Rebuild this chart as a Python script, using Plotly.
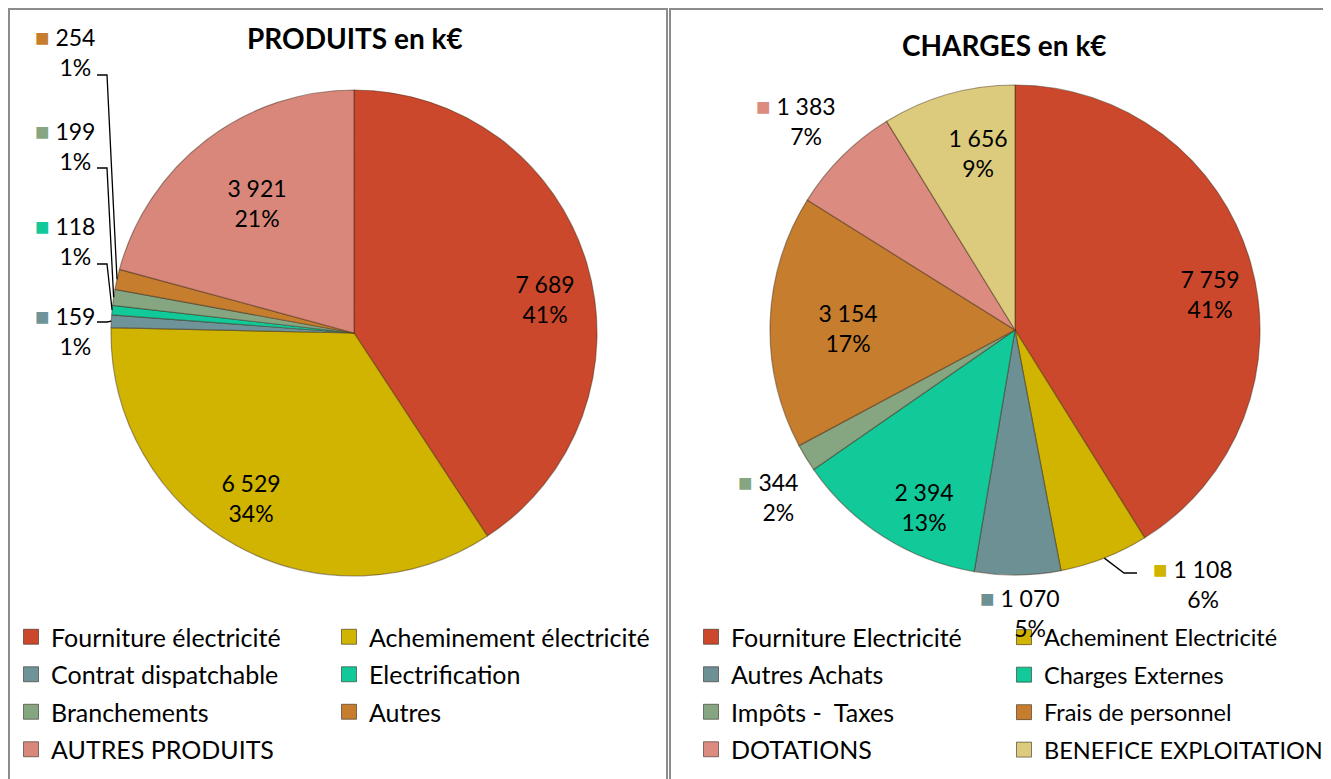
import math
import plotly.graph_objects as go

# ---------------- data ----------------
prod_labels = ["Fourniture électricité", "Acheminement électricité", "Contrat dispatchable",
               "Electrification", "Branchements", "Autres", "AUTRES PRODUITS"]
prod_values = [7689, 6529, 159, 118, 199, 254, 3921]
prod_pct = [41, 34, 1, 1, 1, 1, 21]

charge_labels = ["Fourniture Electricité", "Acheminent Electricité", "Autres Achats",
                 "Charges Externes", "Impôts -  Taxes", "Frais de personnel",
                 "DOTATIONS", "BENEFICE EXPLOITATION"]
charge_values = [7759, 1108, 1070, 2394, 344, 3154, 1383, 1656]
charge_pct = [41, 6, 5, 13, 2, 17, 7, 9]

# ---------------- styles ----------------
prod_colors = ["#CB482D", "#D0B400", "#6E949A", "#12C99A", "#86A682", "#C67D2E", "#D9877B"]
charge_colors = ["#CB482D", "#D0B400", "#6C9094", "#12C99A", "#86A682", "#C67D2E", "#DC8B80", "#DCCB7C"]

# page is offset by the default 8px body margin of the html page
OFF = 8
W, H = 1331 - OFF, 779 - OFF
FONT = "Lato, 'Open Sans', sans-serif"

# pie geometry in page pixels (center x, center y, radius)
LEFT = (354, 333, 243)
RIGHT = (1015, 330, 245)

# inside label placement: radial factor and angular nudge (deg); None -> outside label
prod_rf = [0.80, 0.80, None, None, None, None, 0.67]
prod_da = [6.3, 3.0, 0, 0, 0, 0, 0.9]
charge_rf = [0.81, None, None, 0.81, None, 0.68, None, 0.74]
charge_da = [5.5, 0, 0, -5.3, 0, -1.2, 0, 4.1]
# outside label block centres (page px)
prod_out = {2: (75, 330), 3: (75, 240), 4: (75, 145), 5: (75, 51)}
charge_out = {1: (1203, 583), 2: (1030, 612), 4: (778, 496), 6: (806, 120)}
# leader lines (horizontal start y for left small slices)
prod_leader_y = {2: 322, 3: 264, 4: 168, 5: 75}


def px(x):
    return (x - OFF) / W


def py(y):
    return 1 - (y - OFF) / H


def fmt(v):
    return f"{v:,}".replace(",", " ")


def mid_angles(values):
    tot = sum(values)
    out, cum = [], 0
    for v in values:
        out.append((cum + v / 2) / tot * 360)
        cum += v
    return out


def polar(geom, r, ang):
    cx, cy, _ = geom
    t = math.radians(ang)
    return cx + r * math.sin(t), cy - r * math.cos(t)


def domain(geom):
    cx, cy, r = geom
    return dict(x=[px(cx - r), px(cx + r)], y=[py(cy + r), py(cy - r)])


fig = go.Figure()

for geom, labels, values, colors in [(LEFT, prod_labels, prod_values, prod_colors),
                                      (RIGHT, charge_labels, charge_values, charge_colors)]:
    fig.add_trace(go.Pie(
        labels=labels, values=values, sort=False, direction="clockwise", rotation=0,
        marker=dict(colors=colors, line=dict(color="rgba(60,40,20,0.45)", width=1.2)),
        textinfo="none", hoverinfo="label+value+percent", showlegend=False,
        domain=domain(geom),
    ))

annotations = []
shapes = []


def label_text(color, v, p):
    return (f"<span style='color:{color};font-size:24px'>■</span> {fmt(v)} "
            f"<span style='color:rgba(0,0,0,0);font-size:24px'>■</span><br>{p}%")


for geom, values, pcts, colors, rf, da, outpos in [
        (LEFT, prod_values, prod_pct, prod_colors, prod_rf, prod_da, prod_out),
        (RIGHT, charge_values, charge_pct, charge_colors, charge_rf, charge_da, charge_out)]:
    angs = mid_angles(values)
    for i, (v, p, c, a) in enumerate(zip(values, pcts, colors, angs)):
        if rf[i] is not None:
            x, y = polar(geom, rf[i] * geom[2], a + da[i])
        else:
            x, y = outpos[i]
        annotations.append(dict(
            x=px(x), y=py(y), xref="paper", yref="paper", showarrow=False,
            text=label_text(c, v, p), align="center",
            font=dict(family=FONT, size=23, color="#000000"),
            xanchor="center", yanchor="middle"))

# leader lines for left small slices
angs_l = mid_angles(prod_values)
for i, ly in prod_leader_y.items():
    ex, ey = polar(LEFT, LEFT[2], angs_l[i])
    shapes.append(dict(type="path", xref="paper", yref="paper",
                       path=f"M {px(97)},{py(ly)} L {px(107)},{py(ly)} L {px(ex)},{py(ey)}",
                       line=dict(color="#000000", width=1.3)))
# leader line for right 1 108 slice
angs_r = mid_angles(charge_values)
ex, ey = polar(RIGHT, RIGHT[2], angs_r[1])
shapes.append(dict(type="path", xref="paper", yref="paper",
                   path=f"M {px(ex)},{py(ey)} L {px(1124)},{py(573)} L {px(1137)},{py(573)}",
                   line=dict(color="#000000", width=1.3)))

# panel borders
for x0, x1 in [(9, 667), (670, 1345)]:
    shapes.append(dict(type="rect", xref="paper", yref="paper",
                       x0=px(x0), x1=px(x1), y0=py(795), y1=py(9),
                       line=dict(color="#8C8C8C", width=2), fillcolor="rgba(0,0,0,0)"))

# titles
annotations.append(dict(x=px(355), y=py(38), xref="paper", yref="paper", showarrow=False,
                        xanchor="center", yanchor="middle",
                        text="<b>PRODUITS en k€</b>", font=dict(family=FONT, size=28, color="#000000")))
annotations.append(dict(x=px(1004), y=py(45), xref="paper", yref="paper", showarrow=False,
                        xanchor="center", yanchor="middle",
                        text="<b>CHARGES en k€</b>", font=dict(family=FONT, size=28, color="#000000")))

# legends built from the category lists (two columns per chart)
legend_cols = [
    ("legend", prod_labels[0::2], prod_colors[0::2], 11, 25),
    ("legend2", prod_labels[1::2], prod_colors[1::2], 329, 25),
    ("legend3", charge_labels[0::2], charge_colors[0::2], 691, 25),
    ("legend4", charge_labels[1::2], charge_colors[1::2], 1004, 23.5),
]
legend_layout = {}
for lname, labs, cols, lx, fs in legend_cols:
    for lab, col in zip(labs, cols):
        fig.add_trace(go.Scatter(
            x=[None], y=[None], mode="markers", name=lab, legend=lname, legendgroup=lab,
            marker=dict(symbol="square", size=15, color=col,
                        line=dict(color="rgba(40,30,20,0.55)", width=1)),
            hoverinfo="skip"))
    legend_layout[lname] = dict(
        x=px(lx), y=py(614 + (25 - fs) * 0.9), xanchor="left", yanchor="top", orientation="v",
        bgcolor="rgba(0,0,0,0)", borderwidth=0, traceorder="grouped",
        tracegroupgap=2 + (25 - fs) * 1.3,
        font=dict(family=FONT, size=fs, color="#000000"), itemclick=False, itemdoubleclick=False)

fig.update_layout(
    width=W, height=H, margin=dict(l=0, r=0, t=0, b=0, autoexpand=False),
    paper_bgcolor="#FFFFFF", plot_bgcolor="#FFFFFF",
    xaxis=dict(visible=False, range=[0, 1]), yaxis=dict(visible=False, range=[0, 1]),
    annotations=annotations, shapes=shapes, showlegend=True,
    **legend_layout,
)

fig.write_html("out.html")
